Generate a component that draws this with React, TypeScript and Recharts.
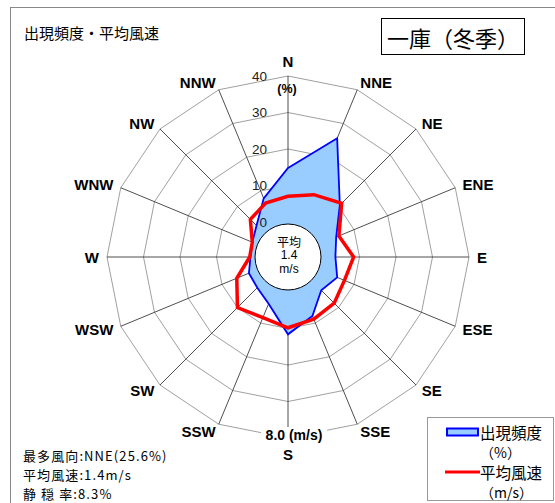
import React from "react";
import {
    RadarChart,
    Radar,
    PolarGrid,
    PolarAngleAxis,
    PolarRadiusAxis,
} from "recharts";

const directions = ["N", "NNE", "NE", "ENE", "E", "ESE", "SE", "SSE", "S", "SSW", "SW", "WSW", "W", "WNW", "NW", "NNW"];
const frequency = [14.8, 25.6, 10.5, 4.7, 3.4, 5.0, 3.3, 7.9, 11.6, 4.3, 2.3, 2.0, 0.7, 1.0, 2.6, 7.8];
const meanSpeed = [1.41, 1.78, 2.24, 1.1, 1.68, 1.43, 1.66, 1.77, 1.96, 1.68, 2.0, 1.12, 0.18, 0.2, 1.0, 1.28];
const freqTicks = [0, 10, 20, 30, 40];
const speedMax = 8;

const data = directions.map((dir, i) => ({ dir, freq: frequency[i], speed: meanSpeed[i] }));

const CX = 288;
const CY = 257;
const INNER = 35;
const OUTER = 181;

const sans = "'Liberation Sans', Arial, sans-serif";
const jp = "'Noto Sans CJK JP', sans-serif";

const DirTick = (props: any) => {
    const { x, y, payload } = props;
    const v: string = payload.value;
    const dx = x - CX;
    let anchor = "middle";
    if (dx > 3) anchor = "start";
    else if (dx < -3) anchor = "end";
    let yy = y;
    if (v === "N") yy = y - 7;
    if (v === "S") yy = y + 8;
    return (
        <text x={x} y={yy} textAnchor={anchor} dominantBaseline="central" fontFamily={sans} fontWeight="bold" fontSize={15} fill="#000">
            {v}
        </text>
    );
};

const FreqTick = (props: any) => {
    const { x, y, payload } = props;
    return (
        <text x={x - 21} y={y} textAnchor="end" dominantBaseline="central" fontFamily={sans} fontSize={13.5} fill="#222">
            {payload.value}
        </text>
    );
};

export default function App() {
    return (
        <div style={{ position: "absolute", left: 0, top: 0, width: 555, height: 503, background: "#fff", overflow: "hidden" }}>
            <RadarChart
                width={555}
                height={503}
                data={data}
                cx={CX}
                cy={CY}
                innerRadius={INNER}
                outerRadius={OUTER}
                margin={{ top: 0, right: 0, bottom: 0, left: 0 }}
            >
                <PolarGrid gridType="polygon" radialLines={false} stroke="#a0a0a0" strokeWidth={1} radiusAxisId="f" />
                <PolarAngleAxis dataKey="dir" tick={DirTick} tickLine={false} axisLine={false} />
                <PolarRadiusAxis radiusAxisId="f" angle={90} domain={[0, 40]} ticks={freqTicks as any} tickCount={5} axisLine={false} tick={FreqTick} />
                <PolarRadiusAxis radiusAxisId="v" angle={90} domain={[0, speedMax]} axisLine={false} tick={false} />
                <Radar
                    radiusAxisId="f"
                    dataKey="freq"
                    name="出現頻度(%)"
                    stroke="#0000ff"
                    strokeWidth={1.8}
                    fill="#99ccff"
                    fillOpacity={1}
                    isAnimationActive={false}
                />
                <PolarGrid gridType="polygon" polarRadius={[]} radialLines stroke="#222" strokeWidth={0.8} radiusAxisId="f" />
                <Radar
                    radiusAxisId="v"
                    dataKey="speed"
                    name="平均風速(m/s)"
                    stroke="#ff0000"
                    strokeWidth={3.5}
                    fill="none"
                    fillOpacity={0}
                    isAnimationActive={false}
                />
            </RadarChart>
            <svg width={555} height={503} style={{ position: "absolute", left: 0, top: 0, pointerEvents: "none" }}>
                <rect x={10.5} y={7.5} width={600} height={600} fill="none" stroke="#888" />
                <text x={24} y={32} dominantBaseline="central" fontFamily={jp} fontSize={15} fill="#000">出現頻度・平均風速</text>
                <rect x={381.5} y={18.5} width={143} height={36} fill="#fff" stroke="#000" />
                <text x={453} y={37} textAnchor="middle" dominantBaseline="central" fontFamily={jp} fontSize={22} fill="#000">一庫（冬季）</text>

                <text x={287} y={89} textAnchor="middle" dominantBaseline="central" fontFamily={sans} fontWeight="bold" fontSize={12.5} fill="#000">(%)</text>

                <circle cx={CX} cy={CY} r={33} fill="#fff" stroke="#000" strokeWidth={1} />
                <text x={CX + 1} y={241} textAnchor="middle" dominantBaseline="central" fontFamily={jp} fontSize={12} fill="#000">平均</text>
                <text x={CX + 1} y={255} textAnchor="middle" dominantBaseline="central" fontFamily={sans} fontSize={12} fill="#000">1.4</text>
                <text x={CX + 1} y={269} textAnchor="middle" dominantBaseline="central" fontFamily={sans} fontSize={12} fill="#000">m/s</text>

                <rect x={261} y={427} width={66} height={17} fill="#fff" />
                <text x={294} y={435} textAnchor="middle" dominantBaseline="central" fontFamily={sans} fontWeight="bold" fontSize={14} fill="#000">8.0 (m/s)</text>

                <text x={23} y={455} dominantBaseline="central" fontFamily={jp} fontSize={13} letterSpacing={1.1} fill="#000">最多風向:NNE(25.6%)</text>
                <text x={23} y={474} dominantBaseline="central" fontFamily={jp} fontSize={13} letterSpacing={1.1} fill="#000">平均風速:1.4m/s</text>
                <text x={23} y={493} dominantBaseline="central" fontFamily={jp} fontSize={13} letterSpacing={1.1} fill="#000">静 穏 率:8.3%</text>

                <rect x={427.5} y={417.5} width={126} height={83} fill="#fff" stroke="#999" />
                <rect x={447} y={428.5} width={31} height={7} fill="#99ccff" stroke="#0000ff" strokeWidth={2} />
                <text x={480} y={432} dominantBaseline="central" fontFamily={jp} fontSize={15.5} fill="#000">出現頻度</text>
                <text x={480} y={452} dominantBaseline="central" fontFamily={jp} fontSize={14} fill="#000">（%）</text>
                <line x1={445} y1={472} x2={480} y2={472} stroke="#ff0000" strokeWidth={3} />
                <text x={480} y={472} dominantBaseline="central" fontFamily={jp} fontSize={15.5} fill="#000">平均風速</text>
                <text x={480} y={492} dominantBaseline="central" fontFamily={jp} fontSize={14} fill="#000">（m/s）</text>
            </svg>
        </div>
    );
}
